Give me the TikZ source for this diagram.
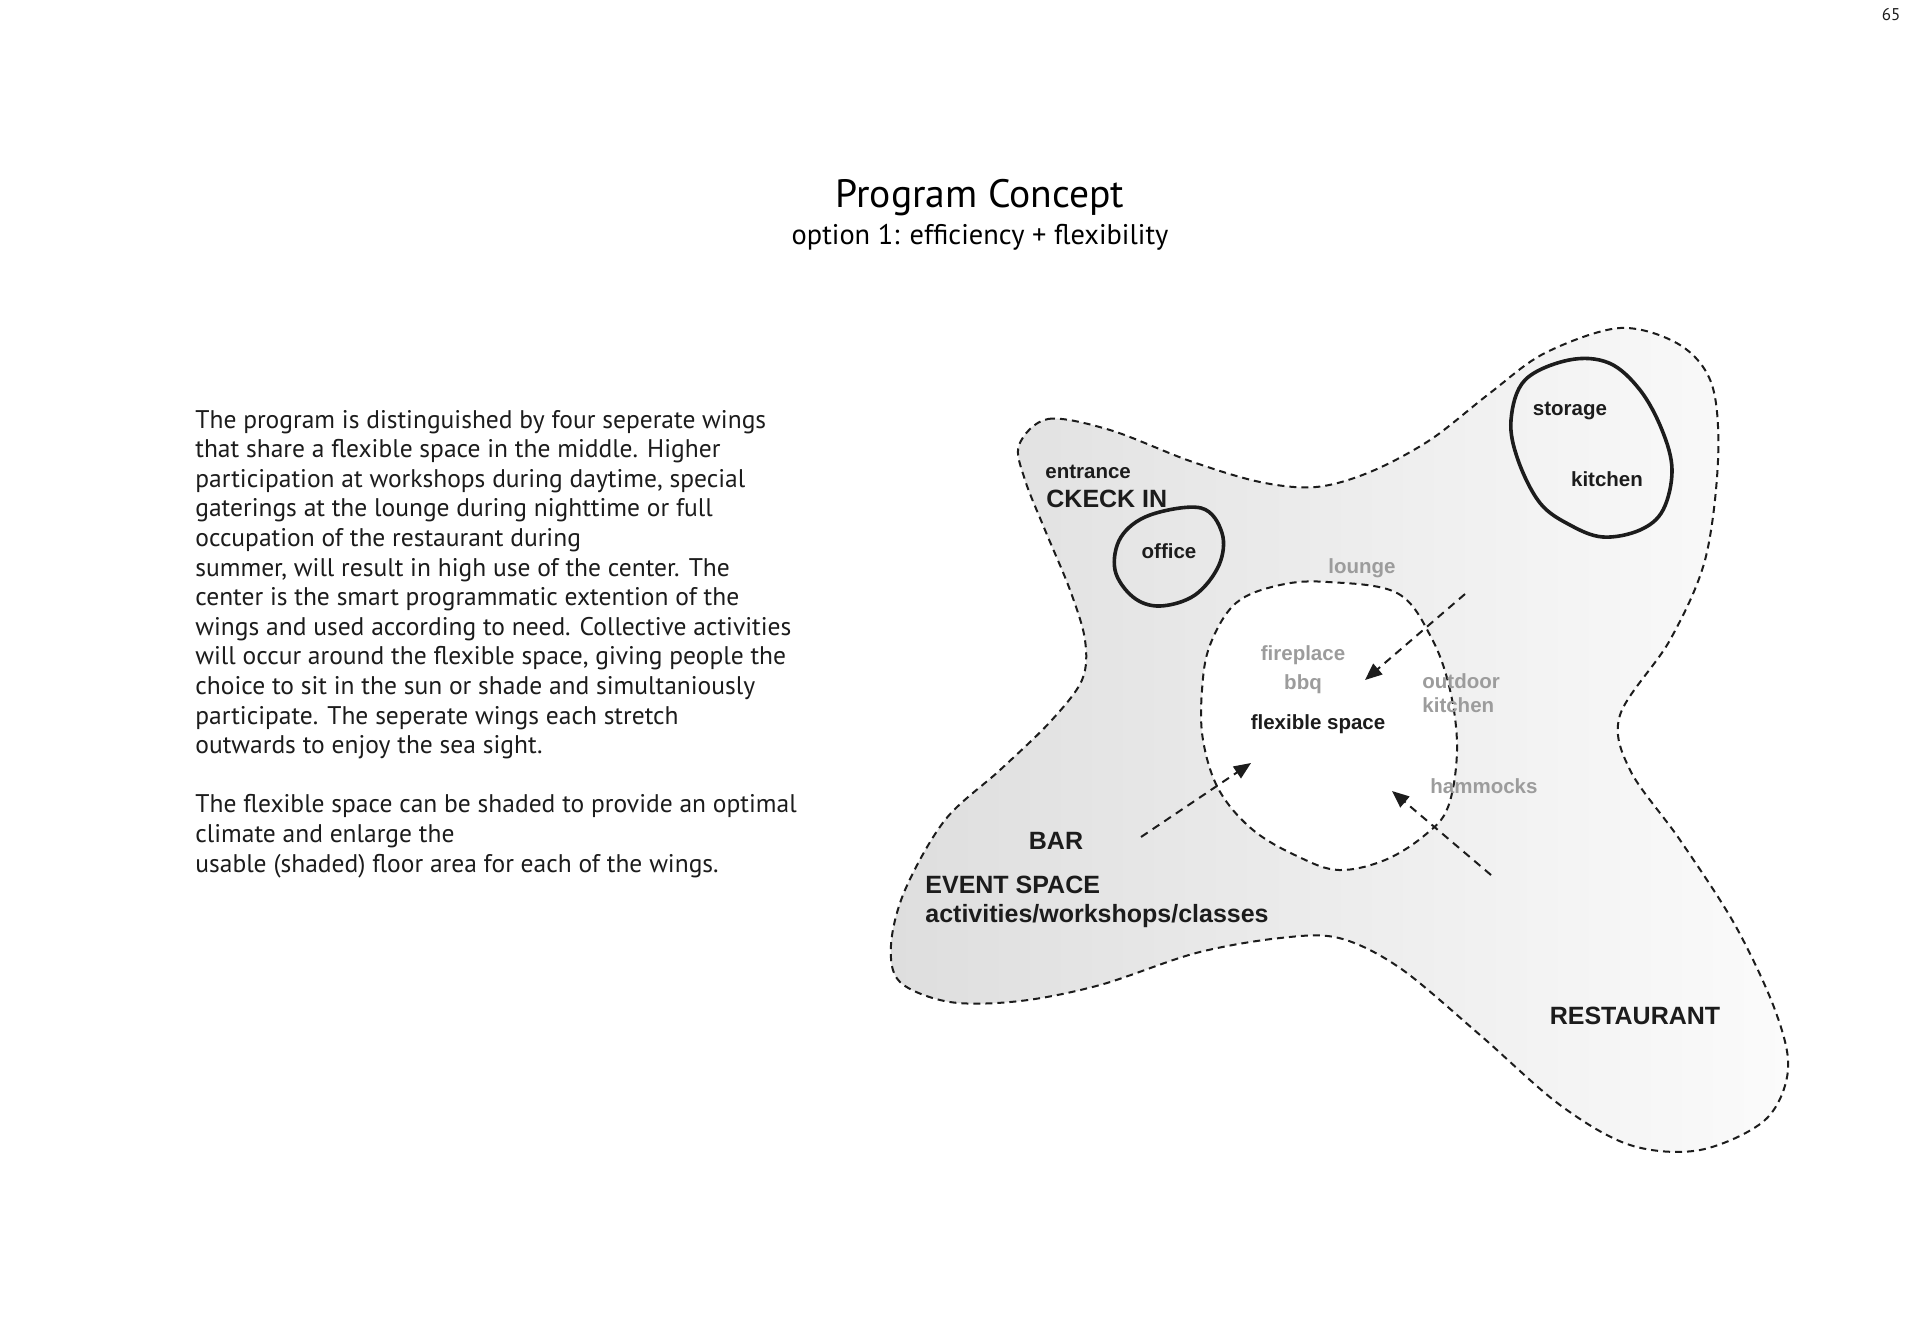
\documentclass[tikz,border=0pt]{standalone}
\usepackage{fontspec}
\setmainfont{PT Sans}
\newfontfamily\labfont{Liberation Sans}
\usetikzlibrary{arrows.meta}
\definecolor{ink}{HTML}{1C1C1C}
\definecolor{lgray}{HTML}{9C9C9C}
\definecolor{shadeL}{HTML}{DEDEDE}
\definecolor{shadeR}{HTML}{FBFBFB}
\begin{document}
\begin{tikzpicture}[x=0.5pt,y=-0.5pt,
 lab/.style={font=\labfont\bfseries\fontsize{10.25}{12}\selectfont, text=ink, inner sep=0pt},
 labbig/.style={font=\labfont\bfseries\fontsize{12.5}{14}\selectfont, text=ink, inner sep=0pt},
 labgray/.style={lab, text=lgray},
 bodyline/.style={font=\fontsize{12.75}{14}\selectfont, text=ink, anchor=base west, inner sep=0pt},
 zone/.style={draw=ink, line width=1pt, dash pattern=on 3.5pt off 2.5pt},
 room/.style={draw=ink, line width=1.8pt},
 flow/.style={draw=ink, line width=1pt, dash pattern=on 4pt off 3pt, -{Triangle[length=8.5pt,width=7pt]}}]
\useasboundingbox[fill=white] (0,0) rectangle (1920,1324);

% page number and title
\node[anchor=base, font=\fontsize{8.5}{10}\selectfont, text=ink, inner sep=0pt] (page) at (1891,20) {65};
\node[anchor=base, font=\fontsize{19.8}{22}\selectfont, text=black, inner sep=0pt] (title) at (980,207) {Program Concept};
\node[anchor=base, font=\fontsize{14.2}{16}\selectfont, text=black, inner sep=0pt] (subtitle) at (980,244) {option 1: efficiency + flexibility};

% body text
\node[bodyline] (b1) at (195,428.0) {The program is distinguished by four seperate wings};
\node[bodyline] (b2) at (195,457.6) {that share a flexible space in the middle. Higher};
\node[bodyline] (b3) at (195,487.2) {participation at workshops during daytime, special};
\node[bodyline] (b4) at (195,516.8) {gaterings at the lounge during nighttime or full};
\node[bodyline] (b5) at (195,546.4) {occupation of the restaurant during};
\node[bodyline] (b6) at (195,576.0) {summer, will result in high use of the center. The};
\node[bodyline] (b7) at (195,605.6) {center is the smart programmatic extention of the};
\node[bodyline] (b8) at (195,635.2) {wings and used according to need. Collective activities};
\node[bodyline] (b9) at (195,664.8) {will occur around the flexible space, giving people the};
\node[bodyline] (b10) at (195,694.4) {choice to sit in the sun or shade and simultaniously};
\node[bodyline] (b11) at (195,724.0) {participate. The seperate wings each stretch};
\node[bodyline] (b12) at (195,753.6) {outwards to enjoy the sea sight.};
\node[bodyline] (b13) at (195,812.8) {The flexible space can be shaded to provide an optimal};
\node[bodyline] (b14) at (195,842.4) {climate and enlarge the};
\node[bodyline] (b15) at (195,872.0) {usable (shaded) floor area for each of the wings.};

% outer zone
\shadedraw[zone, left color=shadeL, right color=shadeR]
 plot[smooth cycle, tension=0.55] coordinates {
 (1019,445) (1048,419) (1110,430) (1190,461) (1260,482) (1316,487) (1370,472)
 (1430,440) (1490,393) (1545,353) (1620,328) (1680,345) (1712,385) (1718,460)
 (1705,560) (1670,640) (1620,715) (1630,770) (1680,840) (1735,925) (1775,1010)
 (1788,1070) (1765,1120) (1700,1150) (1630,1145) (1560,1105) (1480,1035)
 (1400,968) (1339,938) (1280,938) (1196,953) (1100,985) (1020,1001) (950,1002)
 (900,982) (891,945) (905,890) (945,820) (1000,770) (1050,722) (1082,680)
 (1085,640) (1070,590) (1045,530) (1025,480)};

% flexible space
\filldraw[zone, fill=white]
 plot[smooth cycle, tension=0.6] coordinates {
 (1328,582) (1397,593) (1431,637) (1450,690) (1457,750) (1448,807) (1425,835)
 (1385,860) (1339,870) (1299,857) (1253,830) (1219,790) (1203,740) (1202,690)
 (1210,645) (1236,603) (1280,585)};

% office
\draw[room] plot[smooth cycle, tension=0.6] coordinates {
 (1201,508) (1222,533) (1219,565) (1195,595) (1160,606) (1133,597) (1115,570)
 (1121,537) (1150,515)};

% storage / kitchen
\draw[room] plot[smooth cycle, tension=0.6] coordinates {
 (1569,360) (1609,363) (1640,390) (1662,430) (1672,470) (1663,510) (1640,530)
 (1603,537) (1570,525) (1540,503) (1518,460) (1511,420) (1525,380)};

% arrows
\coordinate (a1s) at (1465,594);
\coordinate (a1e) at (1365,680);
\coordinate (a2s) at (1141,837);
\coordinate (a2e) at (1251,763);
\coordinate (a3s) at (1491,875);
\coordinate (a3e) at (1392,791);
\draw[flow] (a1s) -- (a1e);
\draw[flow] (a2s) -- (a2e);
\draw[flow] (a3s) -- (a3e);

% labels
\node[lab, anchor=base west] (entrance) at (1045,478) {entrance};
\node[labbig, anchor=base west] (checkin) at (1046,507) {CKECK IN};
\node[lab, anchor=base] (office) at (1169,558) {office};
\node[lab, anchor=base] (storage) at (1570,415) {storage};
\node[lab, anchor=base] (kitchen) at (1607,486) {kitchen};
\node[labgray, anchor=base] (lounge) at (1362,573) {lounge};
\node[labgray, anchor=base] (fireplace) at (1303,660) {fireplace};
\node[labgray, anchor=base] (bbq) at (1303,689) {bbq};
\node[labgray, anchor=base west] (outdoor) at (1422,688) {outdoor};
\node[labgray, anchor=base west] (okitchen) at (1422,712) {kitchen};
\node[lab, anchor=base] (flex) at (1318,729) {flexible space};
\node[labgray, anchor=base west] (hammocks) at (1430,793) {hammocks};
\node[labbig, anchor=base] (bar) at (1056,849) {BAR};
\node[labbig, anchor=base west] (event) at (925,893) {EVENT SPACE};
\node[labbig, anchor=base west] (activities) at (925,922) {activities/workshops/classes};
\node[labbig, anchor=base] (restaurant) at (1635,1024) {RESTAURANT};
\end{tikzpicture}
\end{document}
